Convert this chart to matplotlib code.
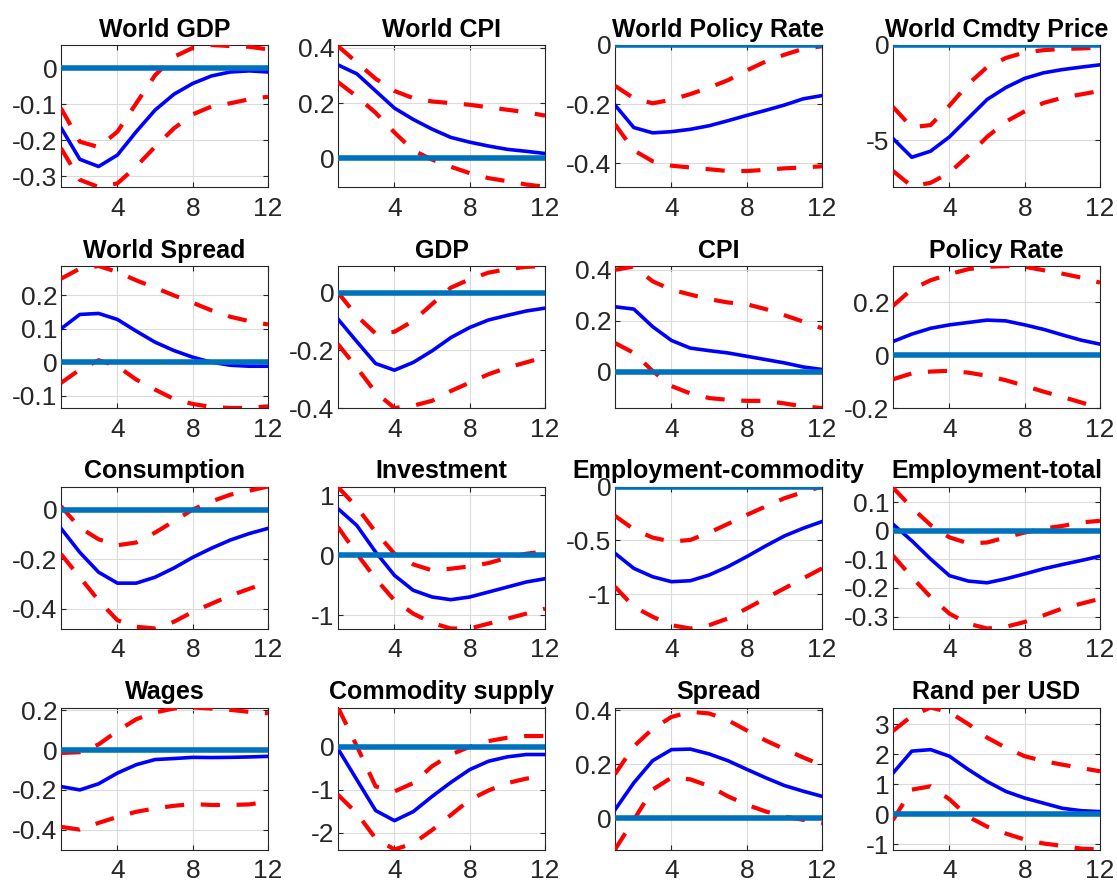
import matplotlib
matplotlib.use("Agg")
import matplotlib.pyplot as plt
import numpy as np
from matplotlib.ticker import FuncFormatter

plt.rcParams['font.family'] = ['Liberation Sans', 'DejaVu Sans']

horizon = list(range(1, 13))
titles = ["World GDP", "World CPI", "World Policy Rate", "World Cmdty Price",
          "World Spread", "GDP", "CPI", "Policy Rate",
          "Consumption", "Investment", "Employment-commodity", "Employment-total",
          "Wages", "Commodity supply", "Spread", "Rand per USD"]

median = [
    [-0.165, -0.253, -0.273, -0.241, -0.176, -0.116, -0.072, -0.042, -0.021, -0.010, -0.007, -0.010],
    [0.338, 0.306, 0.244, 0.182, 0.141, 0.106, 0.076, 0.059, 0.045, 0.033, 0.026, 0.018],
    [-0.203, -0.279, -0.297, -0.293, -0.285, -0.273, -0.256, -0.238, -0.221, -0.203, -0.182, -0.171],
    [-4.91, -5.89, -5.57, -4.82, -3.84, -2.86, -2.23, -1.75, -1.46, -1.29, -1.16, -1.04],
    [0.100, 0.143, 0.146, 0.128, 0.093, 0.060, 0.035, 0.015, 0.000, -0.009, -0.012, -0.012],
    [-0.092, -0.170, -0.246, -0.269, -0.242, -0.202, -0.156, -0.121, -0.095, -0.079, -0.064, -0.054],
    [0.255, 0.246, 0.177, 0.123, 0.093, 0.083, 0.074, 0.061, 0.048, 0.035, 0.019, 0.009],
    [0.052, 0.080, 0.102, 0.115, 0.124, 0.133, 0.130, 0.115, 0.098, 0.077, 0.057, 0.042],
    [-0.076, -0.173, -0.253, -0.297, -0.297, -0.273, -0.236, -0.193, -0.156, -0.123, -0.097, -0.076],
    [0.78, 0.50, 0.056, -0.333, -0.583, -0.694, -0.739, -0.694, -0.611, -0.528, -0.444, -0.389],
    [-0.621, -0.761, -0.839, -0.885, -0.876, -0.823, -0.745, -0.652, -0.553, -0.460, -0.388, -0.326],
    [0.023, -0.035, -0.099, -0.157, -0.176, -0.182, -0.168, -0.151, -0.133, -0.118, -0.104, -0.089],
    [-0.183, -0.200, -0.169, -0.115, -0.073, -0.047, -0.042, -0.036, -0.037, -0.036, -0.034, -0.031],
    [-0.047, -0.766, -1.484, -1.719, -1.508, -1.156, -0.828, -0.531, -0.336, -0.234, -0.180, -0.180],
    [0.031, 0.131, 0.213, 0.254, 0.256, 0.238, 0.213, 0.181, 0.150, 0.121, 0.100, 0.081],
    [1.37, 2.10, 2.15, 1.93, 1.49, 1.09, 0.76, 0.54, 0.37, 0.20, 0.12, 0.09],
]

upper = [
    [-0.111, -0.204, -0.219, -0.176, -0.097, -0.019, 0.032, 0.057, 0.065, 0.062, 0.060, 0.053],
    [0.406, 0.347, 0.288, 0.244, 0.218, 0.206, 0.200, 0.194, 0.185, 0.176, 0.167, 0.155],
    [-0.138, -0.180, -0.197, -0.185, -0.166, -0.144, -0.119, -0.086, -0.056, -0.033, -0.013, -0.004],
    [-3.25, -4.32, -4.20, -3.18, -2.05, -1.16, -0.68, -0.39, -0.27, -0.21, -0.18, -0.14],
    [0.250, 0.280, 0.288, 0.270, 0.245, 0.223, 0.200, 0.178, 0.155, 0.136, 0.123, 0.113],
    [0.000, -0.081, -0.142, -0.136, -0.098, -0.040, 0.017, 0.046, 0.069, 0.081, 0.089, 0.092],
    [0.400, 0.413, 0.355, 0.322, 0.303, 0.285, 0.272, 0.265, 0.246, 0.222, 0.197, 0.171],
    [0.187, 0.250, 0.284, 0.307, 0.326, 0.335, 0.338, 0.335, 0.322, 0.309, 0.294, 0.275],
    [0.013, -0.073, -0.120, -0.144, -0.133, -0.093, -0.047, 0.000, 0.033, 0.060, 0.076, 0.093],
    [1.14, 0.806, 0.389, 0.028, -0.150, -0.250, -0.222, -0.183, -0.128, -0.039, 0.028, 0.067],
    [-0.273, -0.398, -0.475, -0.512, -0.497, -0.429, -0.348, -0.264, -0.186, -0.109, -0.053, 0.000],
    [0.151, 0.081, 0.020, -0.023, -0.044, -0.041, -0.023, -0.006, 0.008, 0.017, 0.029, 0.035],
    [-0.014, -0.010, 0.029, 0.097, 0.156, 0.190, 0.210, 0.215, 0.210, 0.203, 0.193, 0.186],
    [0.914, 0.016, -0.922, -1.039, -0.844, -0.453, -0.180, 0.000, 0.133, 0.211, 0.250, 0.250],
    [0.163, 0.266, 0.331, 0.375, 0.394, 0.388, 0.363, 0.325, 0.288, 0.256, 0.225, 0.196],
    [2.77, 3.27, 3.55, 3.39, 3.00, 2.55, 2.21, 1.93, 1.77, 1.65, 1.54, 1.43],
]

lower = [
    [-0.222, -0.310, -0.330, -0.320, -0.273, -0.218, -0.167, -0.128, -0.106, -0.097, -0.086, -0.079],
    [0.276, 0.224, 0.165, 0.094, 0.029, -0.004, -0.030, -0.053, -0.071, -0.082, -0.094, -0.102],
    [-0.268, -0.356, -0.393, -0.408, -0.414, -0.420, -0.426, -0.426, -0.422, -0.417, -0.414, -0.410],
    [-6.61, -7.41, -7.23, -6.70, -5.80, -4.82, -4.02, -3.48, -3.04, -2.77, -2.59, -2.41],
    [-0.062, -0.022, 0.006, -0.012, -0.052, -0.082, -0.110, -0.125, -0.134, -0.137, -0.137, -0.132],
    [-0.179, -0.260, -0.346, -0.400, -0.392, -0.375, -0.341, -0.312, -0.283, -0.260, -0.242, -0.223],
    [0.113, 0.074, 0.003, -0.056, -0.085, -0.103, -0.110, -0.114, -0.114, -0.124, -0.136, -0.142],
    [-0.091, -0.069, -0.062, -0.059, -0.066, -0.078, -0.095, -0.116, -0.138, -0.158, -0.179, -0.200],
    [-0.180, -0.273, -0.367, -0.447, -0.473, -0.480, -0.453, -0.413, -0.380, -0.347, -0.320, -0.293],
    [0.472, 0.028, -0.389, -0.750, -0.972, -1.128, -1.220, -1.220, -1.139, -1.056, -0.972, -0.889],
    [-0.932, -1.118, -1.211, -1.289, -1.320, -1.289, -1.227, -1.134, -1.040, -0.947, -0.854, -0.761],
    [-0.087, -0.162, -0.232, -0.290, -0.325, -0.342, -0.336, -0.319, -0.296, -0.272, -0.255, -0.238],
    [-0.386, -0.400, -0.366, -0.336, -0.310, -0.293, -0.280, -0.271, -0.276, -0.276, -0.273, -0.259],
    [-1.117, -1.547, -2.133, -2.390, -2.250, -1.938, -1.586, -1.234, -1.016, -0.844, -0.742, -0.672],
    [-0.116, -0.006, 0.106, 0.150, 0.144, 0.119, 0.081, 0.050, 0.025, 0.006, -0.006, -0.019],
    [-0.19, 0.82, 0.93, 0.50, -0.08, -0.41, -0.64, -0.84, -0.97, -1.05, -1.14, -1.17],
]

ylims = [(-0.33, 0.065), (-0.103, 0.41), (-0.48, 0.0), (-7.45, 0.0),
         (-0.137, 0.288), (-0.40, 0.092), (-0.142, 0.415), (-0.20, 0.338),
         (-0.48, 0.093), (-1.22, 1.15), (-1.32, 0.0), (-0.342, 0.155),
         (-0.50, 0.215), (-2.39, 0.914), (-0.116, 0.41), (-1.17, 3.55)]

yticks = [[-0.3, -0.2, -0.1, 0], [0, 0.2, 0.4], [-0.4, -0.2, 0], [-5, 0],
          [-0.1, 0, 0.1, 0.2], [-0.4, -0.2, 0], [0, 0.2, 0.4], [-0.2, 0, 0.2],
          [-0.4, -0.2, 0], [-1, 0, 1], [-1, -0.5, 0], [-0.3, -0.2, -0.1, 0, 0.1],
          [-0.4, -0.2, 0, 0.2], [-2, -1, 0], [0, 0.2, 0.4], [-1, 0, 1, 2, 3]]

xticks = [4, 8, 12]

W, H = 1117, 886
fig = plt.figure(figsize=(W / 100, H / 100), dpi=100)
col_left = [61, 338, 615, 893]
col_w = 207
row_bottom = [187, 408, 628.5, 849.5]
row_h = 142

fmt = FuncFormatter(lambda v, p: ("%g" % v))
axc = (0.15, 0.15, 0.15)
dash = (0, (4.6, 4.0))

for i in range(16):
    r, c = divmod(i, 4)
    ax = fig.add_axes([col_left[c] / W, 1 - row_bottom[r] / H, col_w / W, row_h / H])
    ax.plot(horizon, median[i], color=(0, 0, 1), lw=2.6, zorder=3)
    ax.plot(horizon, upper[i], color=(1, 0, 0), lw=3.0, ls=dash, zorder=3)
    ax.plot(horizon, lower[i], color=(1, 0, 0), lw=3.0, ls=dash, zorder=3)
    ax.axhline(0, color='#0072BD', lw=4.0, zorder=4)
    ax.set_xlim(1, 12)
    ax.set_ylim(*ylims[i])
    ax.set_xticks(xticks)
    ax.set_yticks(yticks[i])
    ax.yaxis.set_major_formatter(fmt)
    ax.grid(True, color=(0.86, 0.86, 0.86), lw=0.8)
    ax.set_axisbelow(True)
    ax.tick_params(direction='in', length=3.5, width=0.8, top=True, right=True,
                   labelsize=19, colors=axc, labelcolor=axc)
    ax.tick_params(axis='y', pad=2.5)
    ax.tick_params(axis='x', pad=7)
    for s in ax.spines.values():
        s.set_color(axc)
        s.set_linewidth(0.8)
    ax.set_title(titles[i], fontsize=18, fontweight='bold', pad=6)

fig.savefig("out.png", dpi=100)
